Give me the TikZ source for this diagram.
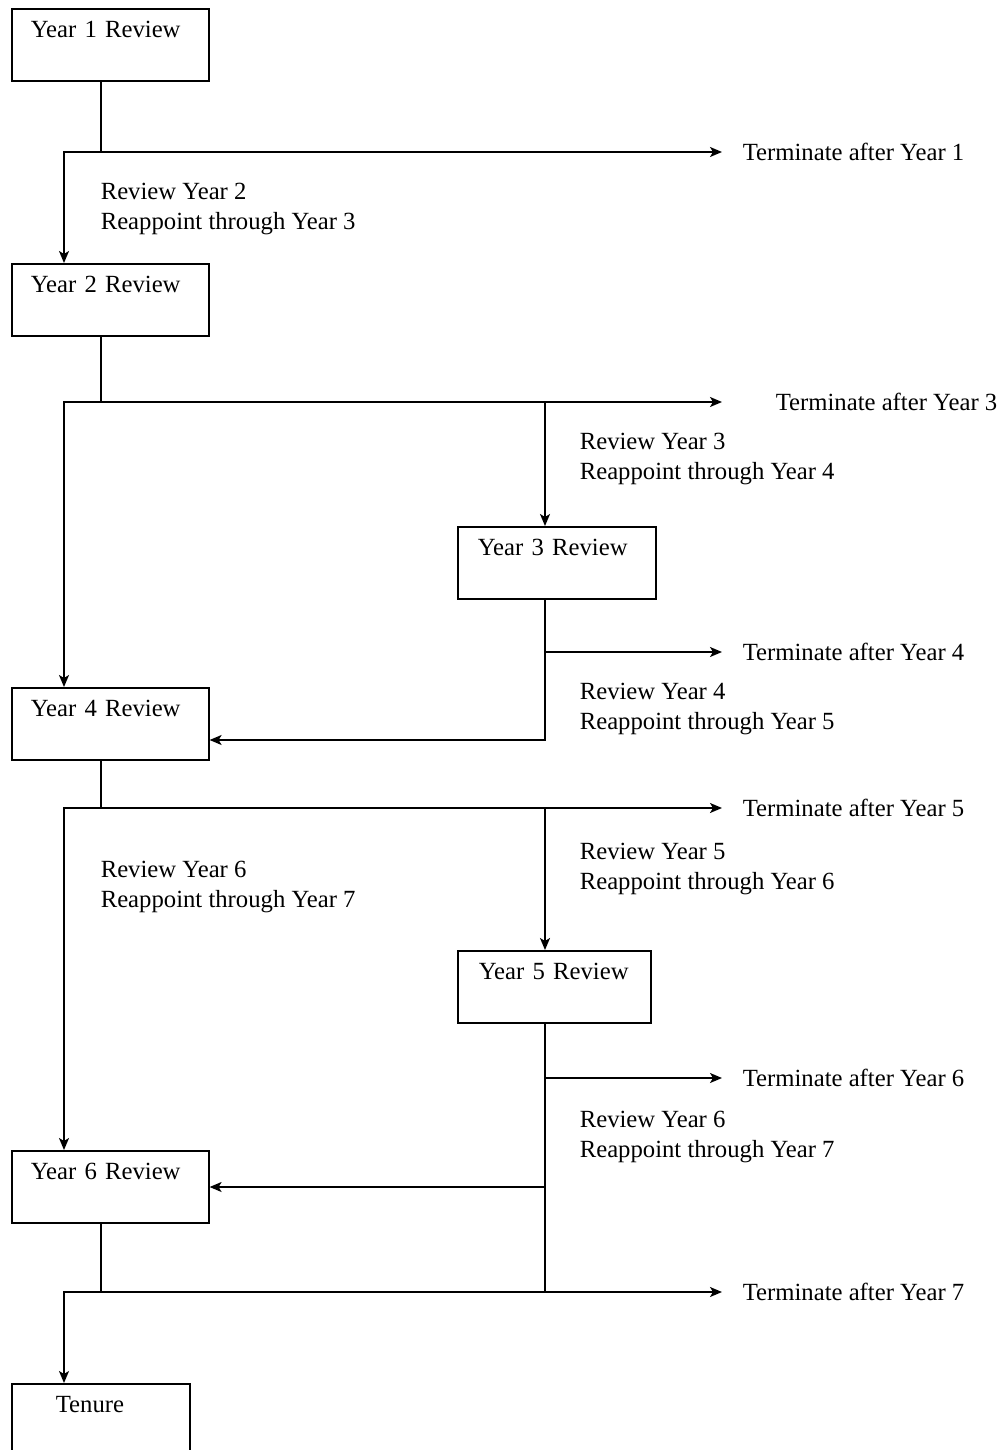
\documentclass[tikz,border=0pt]{standalone}
\usepackage{fontspec}
\setmainfont{Liberation Serif}
\usepackage{tikz}
\usetikzlibrary{arrows.meta, positioning}

\newcommand{\diagfont}{\fontsize{24.7}{30}\selectfont}

\begin{document}
\begin{tikzpicture}[x=1pt, y=-1pt, line width=1.6pt, line cap=rect,
        review/.style={draw, anchor=north west, align=left, font=\diagfont,
            inner xsep=19pt, inner ysep=12pt, text height=17pt, text depth=31pt, text width=#1},
        review/.default=159pt,
        term/.style={anchor=west, inner ysep=0pt, inner xsep=20pt, font=\diagfont},
        note/.style={anchor=north west, align=left, inner sep=0pt, font=\diagfont},
        arr/.style={-{Stealth[length=12pt, width=10pt, inset=3pt]}},
        both/.style={{Stealth[length=12pt, width=10pt, inset=3pt]}-{Stealth[length=12pt, width=10pt, inset=3pt]}}]
        \path[use as bounding box, fill=white] (0,0) rectangle (1004,1450);

        % review boxes
        \node[review] (y1) at (11,8) {Year 1 Review};
        \node[review] (y2) at (11,263) {Year 2 Review};
        \node[review=158pt, inner xsep=20pt] (y3) at (457,526) {Year 3 Review};
        \node[review] (y4) at (11,687) {Year 4 Review};
        \node[review=151pt, inner xsep=21pt] (y5) at (457,950) {Year 5 Review};
        \node[review] (y6) at (11,1150) {Year 6 Review};
        \node[review=90pt, inner xsep=44pt] (ten) at (11,1383) {Tenure};

        % exits
        \node[term] (t1) at (722,152) {Terminate after Year 1};
        \node[term, inner xsep=53pt] (t3) at (722,402) {Terminate after Year 3};
        \node[term] (t4) at (722,652) {Terminate after Year 4};
        \node[term] (t5) at (722,808) {Terminate after Year 5};
        \node[term] (t6) at (722,1078) {Terminate after Year 6};
        \node[term] (t7) at (722,1292) {Terminate after Year 7};

        % notes
        \node[note] (n2) at (100,182) {Review Year 2\\Reappoint through Year 3};
        \node[note] (n3) at (579,432) {Review Year 3\\Reappoint through Year 4};
        \node[note] (n4) at (579,682) {Review Year 4\\Reappoint through Year 5};
        \node[note] (n5) at (579,842) {Review Year 5\\Reappoint through Year 6};
        \node[note] (n6) at (100,860) {Review Year 6\\Reappoint through Year 7};
        \node[note] (n7) at (579,1110) {Review Year 6\\Reappoint through Year 7};

        % junctions
        \coordinate (k1) at (101,152);
        \coordinate (j1) at (64,152);
        \coordinate (k2) at (101,402);
        \coordinate (j2) at (64,402);
        \coordinate (m2) at (545,402);
        \coordinate (m3) at (545,740);
        \coordinate (k4) at (101,808);
        \coordinate (j4) at (64,808);
        \coordinate (m4) at (545,808);
        \coordinate (r5) at (545,1187);
        \coordinate (m5) at (545,1292);
        \coordinate (k6) at (101,1292);
        \coordinate (j6) at (64,1292);

        \draw (y1.south -| k1) -- (k1);
        \draw[both] (y2.north -| j1) -- (j1) -- (t1.west);

        \draw (y2.south -| k2) -- (k2);
        \draw[both] (y4.north -| j2) -- (j2) -- (t3.west);
        \draw[arr] (m2) -- (y3.north -| m2);

        \draw[arr] (y3.south -| m3) -- (m3) -- (m3 -| y4.east);
        \draw[arr] (t4.west -| m3) -- (t4.west);

        \draw (y4.south -| k4) -- (k4);
        \draw[both] (y6.north -| j4) -- (j4) -- (t5.west);
        \draw[arr] (m4) -- (y5.north -| m4);

        \draw (y5.south -| m5) -- (m5);
        \draw[arr] (t6.west -| m5) -- (t6.west);
        \draw[arr] (r5) -- (r5 -| y6.east);

        \draw (y6.south -| k6) -- (k6);
        \draw[both] (ten.north -| j6) -- (j6) -- (t7.west);
\end{tikzpicture}
\end{document}
